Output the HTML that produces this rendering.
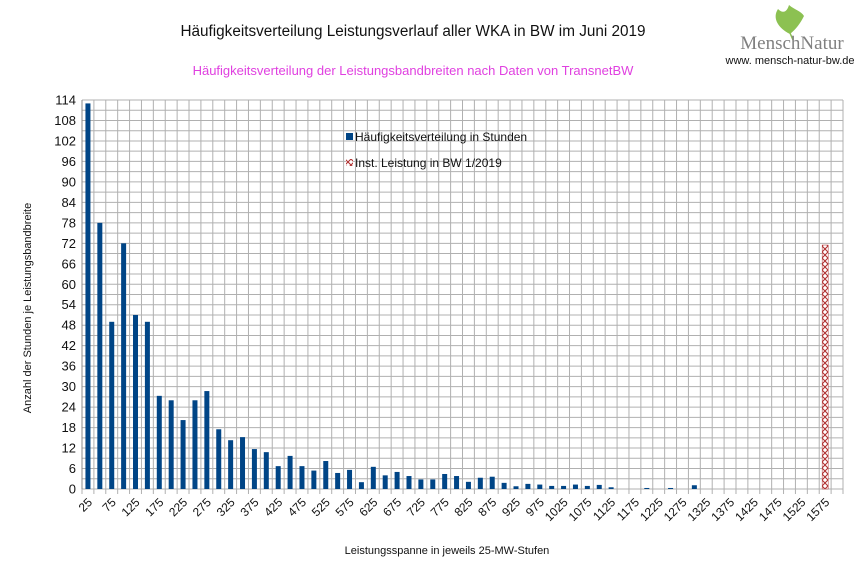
<!DOCTYPE html>
<html><head><meta charset="utf-8">
<style>
html,body{margin:0;padding:0;background:#fff;}
body{width:866px;height:578px;overflow:hidden;font-family:"Liberation Sans",sans-serif;}
svg text{font-family:"Liberation Sans",sans-serif;}
</style></head>
<body>
<svg id="chart" width="866" height="578" viewBox="0 0 866 578" xmlns="http://www.w3.org/2000/svg">
<defs>
<pattern id="hatch" width="6" height="6" patternUnits="userSpaceOnUse">
<rect width="6" height="6" fill="#fff"/>
<path d="M0,0 L6,6 M6,0 L0,6" stroke="#b03030" stroke-width="1.1"/>
</pattern>
</defs>
<rect width="866" height="578" fill="#fff"/>
<text x="413" y="36" font-size="15.3" text-anchor="middle" fill="#111">Häufigkeitsverteilung Leistungsverlauf aller WKA in BW im Juni 2019</text>
<text x="413" y="75" font-size="13" text-anchor="middle" fill="#e040e0">Häufigkeitsverteilung der Leistungsbandbreiten nach Daten von TransnetBW</text>
<g>
<path d="M790,34 C778,28 772,18 778,9 C783,14 787,12 789,5 C795,10 801,11 804,16 C800,24 796,29 790,34 Z" fill="#8cc152"/>
<path d="M790,33 L793,40" stroke="#8cc152" stroke-width="1.5"/>
<text x="792" y="49" font-size="19" text-anchor="middle" fill="#808080" style="font-family:'Liberation Serif',serif">MenschNatur</text>
<text x="790" y="64" font-size="11" text-anchor="middle" fill="#111">www. mensch-natur-bw.de</text>
</g>
<g id="grid"></g>
<g id="bars"></g>
<g id="axes"></g>
<g>
<rect x="346" y="133" width="7" height="7" fill="#004586"/>
<text x="355" y="141" font-size="12" fill="#111">Häufigkeitsverteilung in Stunden</text>
<rect x="346" y="159" width="7" height="7" fill="url(#hatch)"/>
<text x="355" y="167" font-size="12" fill="#111">Inst. Leistung in BW 1/2019</text>
</g>
<text transform="translate(31,308) rotate(-90)" font-size="11" text-anchor="middle" fill="#111">Anzahl der Stunden je Leistungsbandbreite</text>
<text x="447" y="554" font-size="11" text-anchor="middle" fill="#111">Leistungsspanne in jeweils 25-MW-Stufen</text>
</svg>
<script>
const categories = [];
for (let c = 25; c <= 1600; c += 25) categories.push(c);
const hoursValues = [113,78,49,72,51,49,27.3,26,20.2,26,28.7,17.5,14.3,15.2,11.7,10.8,6.7,9.7,6.7,5.4,8.2,4.7,5.6,2.0,6.5,4.0,5.0,3.8,2.8,2.8,4.4,3.8,2.1,3.3,3.6,1.8,0.8,1.5,1.3,0.9,0.9,1.3,0.9,1.2,0.5,0,0,0.3,0,0.3,0,1.1,0,0,0,0,0,0,0,0,0,0,0,0];
const capacityCategory = [1575];
const capacityValues = [71.5];
const yTicks = [0,6,12,18,24,30,36,42,48,54,60,66,72,78,84,90,96,102,108,114];

const NS = "http://www.w3.org/2000/svg";
const X0 = 82, X1 = 843, Y0 = 489, Y1 = 100, YMAX = 114;
const bw = (X1 - X0) / categories.length;
function xPos(i){ return X0 + (i + 0.5) * bw; }
function yPos(v){ return Y0 - v / YMAX * (Y0 - Y1); }
function mk(tag, attrs, parent){ const e = document.createElementNS(NS, tag); for (const k in attrs) e.setAttribute(k, attrs[k]); parent.appendChild(e); return e; }

const grid = document.getElementById('grid');
const bars = document.getElementById('bars');
const axes = document.getElementById('axes');

for (let v = 0; v <= YMAX; v += 3) {
  const l = mk('line', {x1:X0, x2:X1, y1:yPos(v), y2:yPos(v), stroke:'#b0b0b0', 'stroke-width':1}, grid);
  
  
}
for (let i = 0; i <= categories.length; i++) {
  const x = X0 + i * bw;
  const l = mk('line', {x1:x, x2:x, y1:Y1, y2:Y0 + 5, stroke:'#b0b0b0', 'stroke-width':1}, grid);
  
  
}
yTicks.forEach(t => {
  const tx = mk('text', {x:X0 - 6, y:yPos(t) + 4.5, 'font-size':13, 'text-anchor':'end', fill:'#111'}, axes);
  tx.textContent = t;
  
  
});
categories.forEach((c, i) => {
  if (i % 2 !== 0 || c > 1575) return;
  const x = xPos(i);
  const tx = mk('text', {transform:`translate(${x + 5},${Y0 + 14}) rotate(-45)`, 'font-size':12, 'text-anchor':'end', fill:'#111'}, axes);
  tx.textContent = c;
  
  
});
hoursValues.forEach((v, i) => {
  if (v <= 0) return;
  const r = mk('rect', {x:xPos(i) - 2.5, y:yPos(v), width:5, height:Y0 - yPos(v), fill:'#004586'}, bars);
  
  
});
capacityValues.forEach((v, k) => {
  const i = categories.indexOf(capacityCategory[k]);
  const r = mk('rect', {x:xPos(i) - 3, y:yPos(v), width:6, height:Y0 - yPos(v), fill:'url(#hatch)', stroke:'#b03030', 'stroke-width':0.5}, bars);
  
  
});
const ax = mk('line', {x1:X0, x2:X0, y1:Y1, y2:Y0, stroke:'#888', 'stroke-width':1}, axes);


</script>
</body></html>
